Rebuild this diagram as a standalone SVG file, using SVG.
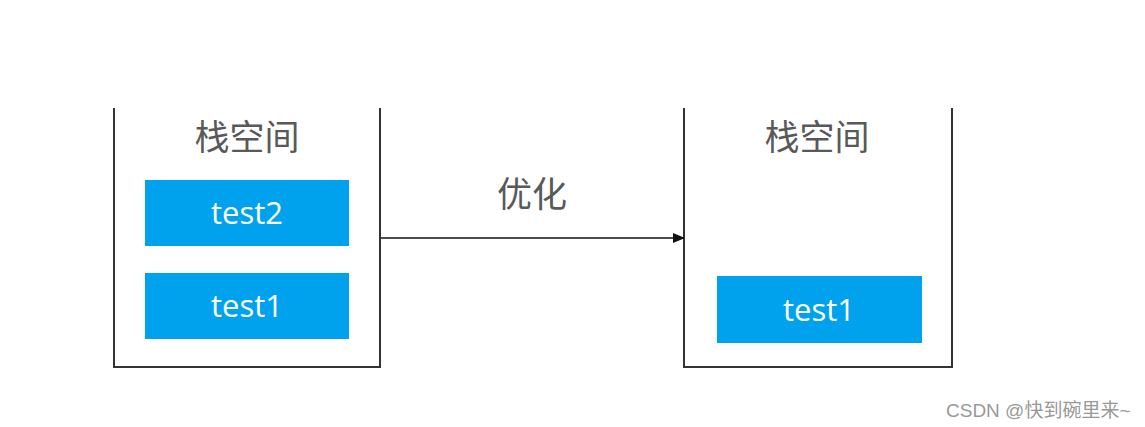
<svg xmlns="http://www.w3.org/2000/svg" width="1145" height="427" viewBox="0 0 1145 427">
<style>
.wall{fill:none;stroke:#333;stroke-width:2}
.title{font-family:"Noto Sans CJK SC","Noto Sans",sans-serif;font-size:35px;fill:#595959;text-anchor:middle}
.blk{fill:#00a2ed}
.lbl{font-family:"Open Sans","Noto Sans",sans-serif;font-size:31px;fill:#fff;text-anchor:middle}
.wm{font-family:"Liberation Sans","Noto Sans CJK SC",sans-serif;font-size:19px;fill:#999}
</style>
<defs>
<marker id="ah" markerWidth="12" markerHeight="10" refX="11" refY="5" orient="auto" markerUnits="userSpaceOnUse">
<path d="M0,0 L12,5 L0,10 Z" fill="#111"/>
</marker>
</defs>
<rect width="1145" height="427" fill="#fff"/>
<g id="stack-left">
<path class="wall" d="M114,108 V367 H380 V108"/>
<text class="title" x="247" y="150">栈空间</text>
</g>
<g id="left-test2">
<rect class="blk" x="145" y="180" width="204" height="66"/>
<text class="lbl" x="247" y="224">test2</text>
</g>
<g id="left-test1">
<rect class="blk" x="145" y="273" width="204" height="66"/>
<text class="lbl" x="247" y="317">test1</text>
</g>
<g id="stack-right">
<path class="wall" d="M684,108 V367 H952 V108"/>
<text class="title" x="817" y="150">栈空间</text>
</g>
<g id="right-test1">
<rect class="blk" x="717" y="276" width="205" height="67"/>
<text class="lbl" x="819" y="321">test1</text>
</g>
<g id="connectors">
<line x1="381" y1="238" x2="684" y2="238" stroke="#111" stroke-width="1.5" marker-end="url(#ah)"/>
<text class="title" x="532" y="207">优化</text>
</g>
<text class="wm" x="946" y="417">CSDN @快到碗里来~</text>
</svg>
